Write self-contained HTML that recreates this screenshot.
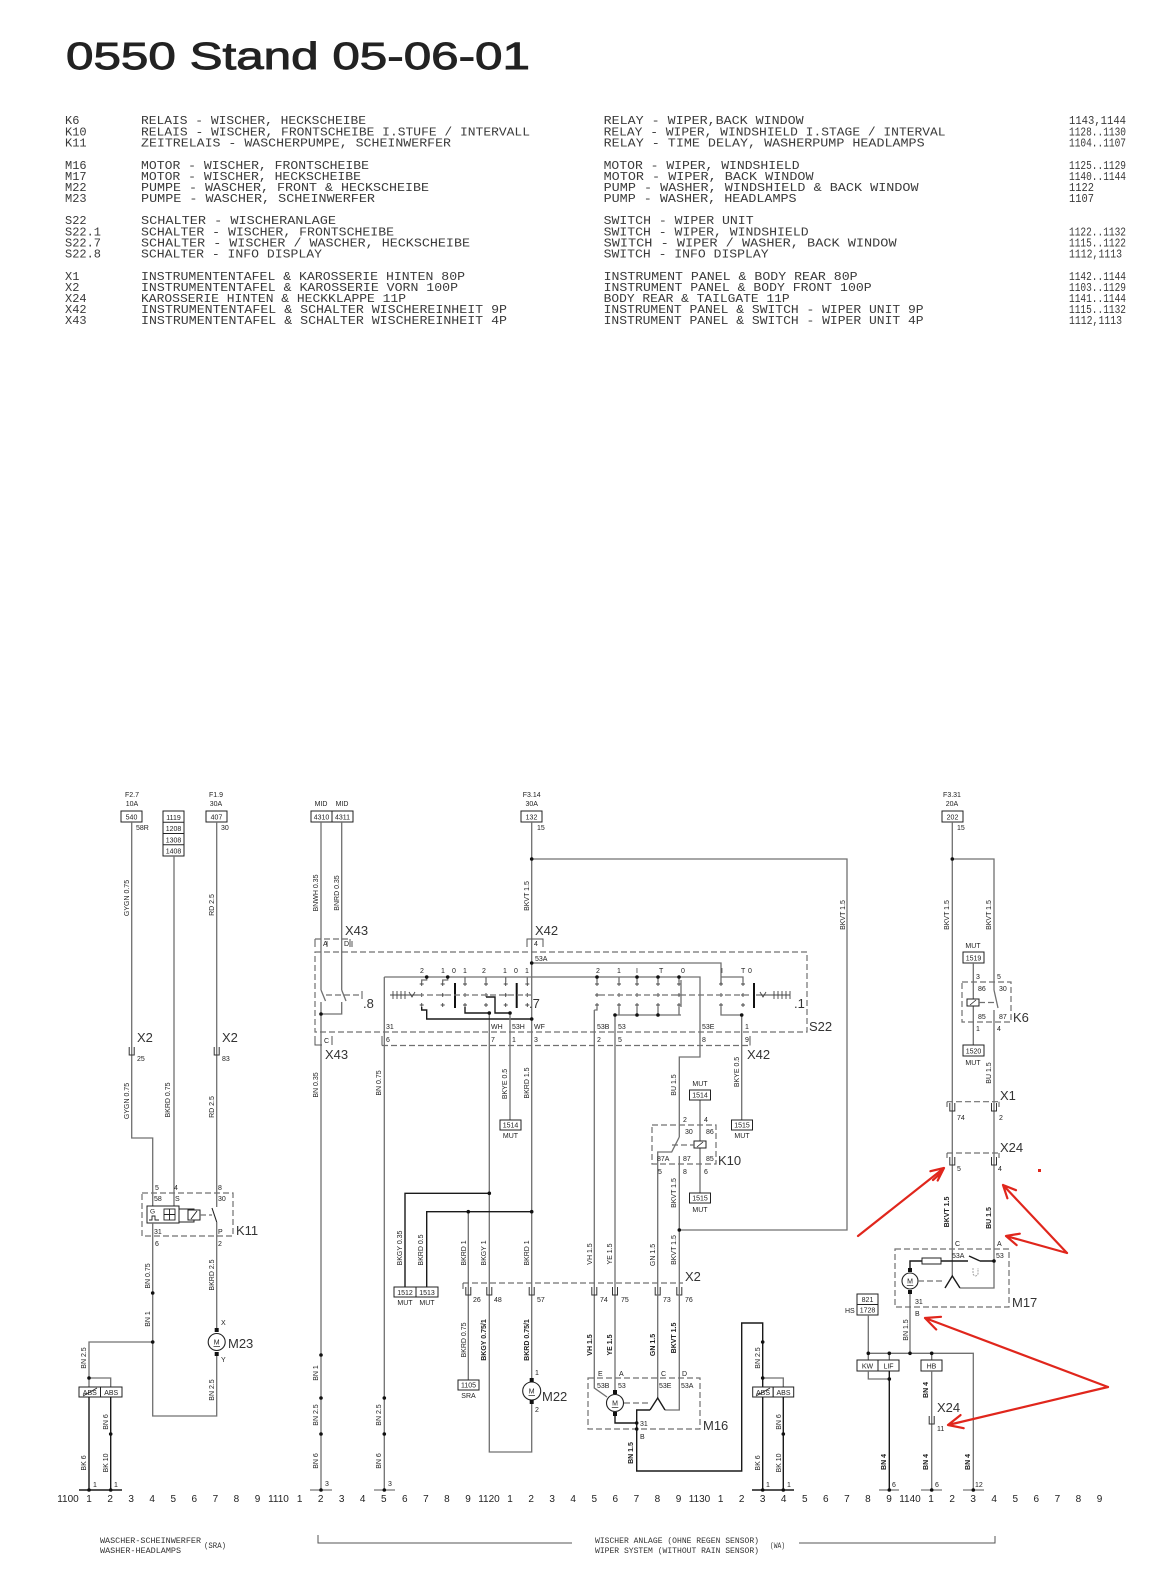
<!DOCTYPE html>
<html><head><meta charset="utf-8"><style>
html,body{margin:0;padding:0;background:#fff}
svg{display:block}
.w{stroke:#707070;stroke-width:1.3;fill:none}
.k{stroke:#1a1a1a;stroke-width:1.4;fill:none}
.d{stroke:#707070;stroke-width:1.2;fill:none;stroke-dasharray:6 3}
.bx{fill:#fff;stroke:#222;stroke-width:1}
.cn{fill:none;stroke:#333;stroke-width:1}
.t{font-family:"Liberation Sans",sans-serif;font-size:7px;fill:#222}
.m{text-anchor:middle}
.b{font-weight:bold}
.L{font-family:"Liberation Sans",sans-serif;font-size:13px;fill:#333}
.n{font-family:"Liberation Sans",sans-serif;font-size:10px;fill:#222;text-anchor:middle}
.g{font-family:"Liberation Mono",monospace;font-size:12px;fill:#3a3a3a}
.s{font-family:"Liberation Mono",monospace;font-size:8px;fill:#333}
.r{stroke:#e0261c;stroke-width:2.2;fill:none;stroke-linecap:round}
.dt{fill:#111}
</style></head><body>
<svg width="1153" height="1570" viewBox="0 0 1153 1570" xmlns="http://www.w3.org/2000/svg">
<rect width="1153" height="1570" fill="#fff"/>

<!-- TITLE -->
<text x="66" y="69" font-family="Liberation Sans, sans-serif" font-size="38" fill="#222" stroke="#222" stroke-width="0.9" textLength="464" lengthAdjust="spacingAndGlyphs">0550 Stand 05-06-01</text>

<!-- LEGEND LEFT -->
<g class="g">
<text x="65" y="124">K6</text><text x="141" y="124" textLength="225" lengthAdjust="spacingAndGlyphs">RELAIS - WISCHER, HECKSCHEIBE</text>
<text x="65" y="135.5">K10</text><text x="141" y="135.5" textLength="389" lengthAdjust="spacingAndGlyphs">RELAIS - WISCHER, FRONTSCHEIBE I.STUFE / INTERVALL</text>
<text x="65" y="146.5">K11</text><text x="141" y="146.5" textLength="310" lengthAdjust="spacingAndGlyphs">ZEITRELAIS - WASCHERPUMPE, SCHEINWERFER</text>
<text x="65" y="169">M16</text><text x="141" y="169" textLength="228" lengthAdjust="spacingAndGlyphs">MOTOR - WISCHER, FRONTSCHEIBE</text>
<text x="65" y="180">M17</text><text x="141" y="180" textLength="220" lengthAdjust="spacingAndGlyphs">MOTOR - WISCHER, HECKSCHEIBE</text>
<text x="65" y="191">M22</text><text x="141" y="191" textLength="288" lengthAdjust="spacingAndGlyphs">PUMPE - WASCHER, FRONT &amp; HECKSCHEIBE</text>
<text x="65" y="202">M23</text><text x="141" y="202" textLength="234" lengthAdjust="spacingAndGlyphs">PUMPE - WASCHER, SCHEINWERFER</text>
<text x="65" y="224">S22</text><text x="141" y="224" textLength="195" lengthAdjust="spacingAndGlyphs">SCHALTER - WISCHERANLAGE</text>
<text x="65" y="235.5">S22.1</text><text x="141" y="235.5" textLength="253" lengthAdjust="spacingAndGlyphs">SCHALTER - WISCHER, FRONTSCHEIBE</text>
<text x="65" y="246.5">S22.7</text><text x="141" y="246.5" textLength="329" lengthAdjust="spacingAndGlyphs">SCHALTER - WISCHER / WASCHER, HECKSCHEIBE</text>
<text x="65" y="257.5">S22.8</text><text x="141" y="257.5" textLength="181" lengthAdjust="spacingAndGlyphs">SCHALTER - INFO DISPLAY</text>
<text x="65" y="280">X1</text><text x="141" y="280" textLength="324" lengthAdjust="spacingAndGlyphs">INSTRUMENTENTAFEL &amp; KAROSSERIE HINTEN 80P</text>
<text x="65" y="291">X2</text><text x="141" y="291" textLength="317" lengthAdjust="spacingAndGlyphs">INSTRUMENTENTAFEL &amp; KAROSSERIE VORN 100P</text>
<text x="65" y="302">X24</text><text x="141" y="302" textLength="265" lengthAdjust="spacingAndGlyphs">KAROSSERIE HINTEN &amp; HECKKLAPPE 11P</text>
<text x="65" y="313">X42</text><text x="141" y="313" textLength="366" lengthAdjust="spacingAndGlyphs">INSTRUMENTENTAFEL &amp; SCHALTER WISCHEREINHEIT 9P</text>
<text x="65" y="324">X43</text><text x="141" y="324" textLength="366" lengthAdjust="spacingAndGlyphs">INSTRUMENTENTAFEL &amp; SCHALTER WISCHEREINHEIT 4P</text>
</g>
<!-- LEGEND RIGHT -->
<g class="g">
<text x="603.6" y="124" textLength="200" lengthAdjust="spacingAndGlyphs">RELAY - WIPER,BACK WINDOW</text>
<text x="603.6" y="135.5" textLength="342" lengthAdjust="spacingAndGlyphs">RELAY - WIPER, WINDSHIELD I.STAGE / INTERVAL</text>
<text x="603.6" y="146.5" textLength="321" lengthAdjust="spacingAndGlyphs">RELAY - TIME DELAY, WASHERPUMP HEADLAMPS</text>
<text x="603.6" y="169" textLength="196" lengthAdjust="spacingAndGlyphs">MOTOR - WIPER, WINDSHIELD</text>
<text x="603.6" y="180" textLength="210" lengthAdjust="spacingAndGlyphs">MOTOR - WIPER, BACK WINDOW</text>
<text x="603.6" y="191" textLength="315" lengthAdjust="spacingAndGlyphs">PUMP - WASHER, WINDSHIELD &amp; BACK WINDOW</text>
<text x="603.6" y="202" textLength="193" lengthAdjust="spacingAndGlyphs">PUMP - WASHER, HEADLAMPS</text>
<text x="603.6" y="224" textLength="150" lengthAdjust="spacingAndGlyphs">SWITCH - WIPER UNIT</text>
<text x="603.6" y="235.5" textLength="205" lengthAdjust="spacingAndGlyphs">SWITCH - WIPER, WINDSHIELD</text>
<text x="603.6" y="246.5" textLength="293" lengthAdjust="spacingAndGlyphs">SWITCH - WIPER / WASHER, BACK WINDOW</text>
<text x="603.6" y="257.5" textLength="165" lengthAdjust="spacingAndGlyphs">SWITCH - INFO DISPLAY</text>
<text x="603.6" y="280" textLength="254" lengthAdjust="spacingAndGlyphs">INSTRUMENT PANEL &amp; BODY REAR 80P</text>
<text x="603.6" y="291" textLength="268" lengthAdjust="spacingAndGlyphs">INSTRUMENT PANEL &amp; BODY FRONT 100P</text>
<text x="603.6" y="302" textLength="186" lengthAdjust="spacingAndGlyphs">BODY REAR &amp; TAILGATE 11P</text>
<text x="603.6" y="313" textLength="320" lengthAdjust="spacingAndGlyphs">INSTRUMENT PANEL &amp; SWITCH - WIPER UNIT 9P</text>
<text x="603.6" y="324" textLength="320" lengthAdjust="spacingAndGlyphs">INSTRUMENT PANEL &amp; SWITCH - WIPER UNIT 4P</text>
<text x="1069" y="124" textLength="57" lengthAdjust="spacingAndGlyphs">1143,1144</text>
<text x="1069" y="135.5" textLength="57" lengthAdjust="spacingAndGlyphs">1128..1130</text>
<text x="1069" y="146.5" textLength="57" lengthAdjust="spacingAndGlyphs">1104..1107</text>
<text x="1069" y="169" textLength="57" lengthAdjust="spacingAndGlyphs">1125..1129</text>
<text x="1069" y="180" textLength="57" lengthAdjust="spacingAndGlyphs">1140..1144</text>
<text x="1069" y="191" textLength="25" lengthAdjust="spacingAndGlyphs">1122</text>
<text x="1069" y="202" textLength="25" lengthAdjust="spacingAndGlyphs">1107</text>
<text x="1069" y="235.5" textLength="57" lengthAdjust="spacingAndGlyphs">1122..1132</text>
<text x="1069" y="246.5" textLength="57" lengthAdjust="spacingAndGlyphs">1115..1122</text>
<text x="1069" y="257.5" textLength="53" lengthAdjust="spacingAndGlyphs">1112,1113</text>
<text x="1069" y="280" textLength="57" lengthAdjust="spacingAndGlyphs">1142..1144</text>
<text x="1069" y="291" textLength="57" lengthAdjust="spacingAndGlyphs">1103..1129</text>
<text x="1069" y="302" textLength="57" lengthAdjust="spacingAndGlyphs">1141..1144</text>
<text x="1069" y="313" textLength="57" lengthAdjust="spacingAndGlyphs">1115..1132</text>
<text x="1069" y="324" textLength="53" lengthAdjust="spacingAndGlyphs">1112,1113</text>
</g>

<!-- ================= LEFT SECTION (SRA) ================= -->
<g class="t m">
<text x="132" y="797">F2.7</text><text x="132" y="806">10A</text>
<text x="216" y="797">F1.9</text><text x="216" y="806">30A</text>
</g>
<rect class="bx" x="121" y="811" width="21" height="11"/>
<rect class="bx" x="163" y="811" width="21" height="45"/>
<path d="M163 822.2h21M163 833.5h21M163 844.8h21" stroke="#222" stroke-width="1"/>
<rect class="bx" x="206" y="811" width="21" height="11"/>
<g class="t m">
<text x="131.5" y="819.5">540</text>
<text x="173.5" y="819.8">1119</text><text x="173.5" y="831">1208</text><text x="173.5" y="842.3">1308</text><text x="173.5" y="853.5">1408</text>
<text x="216.5" y="819.5">407</text>
</g>
<text class="t" x="136" y="830">58R</text>
<text class="t" x="221" y="830">30</text>

<path class="w" d="M131.7 822V1138H152.7V1206"/>
<path class="w" d="M174 856V1206"/>
<path class="w" d="M216.7 822V1207"/>
<path class="cn" d="M129.2 1047v8h5v-8M214.2 1047v8h5v-8"/>
<text class="L" x="137" y="1042">X2</text><text class="L" x="222" y="1042">X2</text>
<text class="t" x="137" y="1061">25</text><text class="t" x="222" y="1061">83</text>

<!-- K11 -->
<rect class="d" x="142" y="1193" width="91" height="43"/>
<rect x="147" y="1206" width="32" height="17" fill="#fff" stroke="#222" stroke-width="1"/>
<text x="150" y="1213.5" font-family="Liberation Sans,sans-serif" font-size="6.5" fill="#222">G</text>
<path d="M149 1220h3v-4h3v4h4" stroke="#222" stroke-width="0.9" fill="none"/>
<rect x="164" y="1209" width="11" height="11" fill="none" stroke="#222" stroke-width="0.9"/>
<path d="M169.5 1209v11M164 1214.5h11" stroke="#222" stroke-width="0.9"/>
<path d="M179 1209H194V1210M179 1222H194V1220" stroke="#222" stroke-width="1" fill="none"/>
<rect x="188" y="1210" width="12" height="10" fill="#fff" stroke="#222" stroke-width="1"/>
<path d="M191 1219L197 1211" stroke="#222" stroke-width="0.9"/>
<path class="d" d="M200 1215H212" stroke-dasharray="3 2"/>
<path d="M216.7 1222L212 1208" stroke="#222" stroke-width="1.1"/>
<g class="t">
<text x="155" y="1190">5</text><text x="174" y="1190">4</text><text x="218" y="1190">8</text>
<text x="154" y="1201">58</text><text x="175" y="1201">S</text><text x="218" y="1201">30</text>
<text x="154" y="1234">31</text><text x="218" y="1234">P</text>
<text x="155" y="1246">6</text><text x="218" y="1246">2</text>
</g>
<text class="L" x="236" y="1235">K11</text>

<path class="w" d="M152.7 1223V1416H216.7V1356"/>
<path class="w" d="M216.7 1222V1328"/>
<circle cx="216.7" cy="1342" r="8.5" fill="#fff" stroke="#222" stroke-width="1.1"/>
<rect x="214.7" y="1328" width="4" height="4" class="dt"/><rect x="214.7" y="1352" width="4" height="4" class="dt"/>
<text class="t m" x="216.7" y="1344.5">M</text><path d="M213.5 1346.5h6.5" stroke="#222" stroke-width="0.7"/>
<text class="t" x="221" y="1325">X</text><text class="t" x="221" y="1362">Y</text>
<text class="L" x="228" y="1348">M23</text>
<path class="w" d="M152.7 1342H89V1387M89 1378H110.7V1387"/>
<rect class="bx" x="79" y="1387" width="21.5" height="10"/><rect class="bx" x="100.5" y="1387" width="21.5" height="10"/>
<text class="t m" x="89.8" y="1394.8">ABS</text><text class="t m" x="111.2" y="1394.8">ABS</text>
<path d="M83 1396L97 1388" stroke="#222" stroke-width="0.8"/>
<path class="k" d="M89 1397V1490M110.7 1397V1490M79 1490H122"/>
<text class="t" x="93" y="1487">1</text><text class="t" x="114" y="1487">1</text>

<!-- ================= MIDDLE SECTION ================= -->
<g class="t m"><text x="321" y="806">MID</text><text x="342" y="806">MID</text>
<text x="531.7" y="797">F3.14</text><text x="531.7" y="806">30A</text></g>
<rect class="bx" x="311" y="811" width="21" height="11"/><rect class="bx" x="332" y="811" width="21" height="11"/>
<rect class="bx" x="521" y="811" width="21" height="11"/>
<g class="t m"><text x="321.5" y="819.5">4310</text><text x="342.5" y="819.5">4311</text><text x="531.5" y="819.5">132</text></g>
<text class="t" x="537" y="830">15</text>

<!-- X43 / S22.8 -->
<path class="w" d="M321 822V990M321 1002V1490M321 990L325.5 1001"/>
<path class="w" d="M341.7 822V990M341.7 1002V1014H321M341.7 990L346 1001"/>
<path class="d" d="M326 995H362" stroke-dasharray="4 2.5"/>
<path d="M362 991V999" stroke="#555" stroke-width="1"/>
<text class="L" x="363" y="1008">.8</text>
<path d="M315 947V939M350 947V939M327 947V941M352 947V941" stroke="#555" stroke-width="1" fill="none"/>
<path class="d" d="M315 939H350" stroke-dasharray="4 2"/>
<text class="t" x="323" y="946">A</text><text class="t" x="344" y="946">D</text>
<text class="L" x="345" y="935">X43</text>
<path d="M315 1036V1045H322M332 1036V1045" stroke="#555" stroke-width="1" fill="none"/>
<text class="t" x="324" y="1043">C</text>
<text class="L" x="325" y="1059">X43</text>

<!-- S22 box -->
<rect class="d" x="315" y="952" width="492" height="80"/>
<text class="L" x="809" y="1031">S22</text>
<path class="d" d="M382 1045.5H750"/>
<path d="M382 1036V1045.5M750 1036V1045.5" stroke="#555" stroke-width="1"/>

<!-- 15 supply -->
<path class="w" d="M531.7 822V1380M531.7 1402V1452H489.3V1013"/>
<path class="w" d="M531.7 859H847V1230H679.3"/>
<path d="M527 947V939H543V947" stroke="#555" stroke-width="1" fill="none"/>
<text class="t" x="534" y="946">4</text>
<text class="L" x="535" y="935">X42</text>
<text class="t" x="535" y="961">53A</text>
<path class="w" d="M531.7 963H721V984"/>
<path class="w" d="M384.3 977H700V1057H679.3V1137"/>
<path class="w" d="M384.3 977V1490"/>

<!-- contacts -->
<path stroke="#444" stroke-width="0.9" fill="none" d="M419.7 984h4M421.7 982v4M419.7 995h4M421.7 993v4M419.7 1005h4M421.7 1003v4M440.7 984h4M442.7 982v4M440.7 995h4M442.7 993v4M440.7 1005h4M442.7 1003v4M463 984h4M465 982v4M463 995h4M465 993v4M463 1005h4M465 1003v4M484 984h4M486 982v4M484 995h4M486 993v4M484 1005h4M486 1003v4M503.7 984h4M505.7 982v4M503.7 995h4M505.7 993v4M503.7 1005h4M505.7 1003v4M525.3 984h4M527.3 982v4M525.3 995h4M527.3 993v4M525.3 1005h4M527.3 1003v4M595 984h4M597 982v4M595 995h4M597 993v4M595 1005h4M597 1003v4M617 984h4M619 982v4M617 995h4M619 993v4M617 1005h4M619 1003v4M635 984h4M637 982v4M635 995h4M637 993v4M635 1005h4M637 1003v4M656 984h4M658 982v4M656 995h4M658 993v4M656 1005h4M658 1003v4M677 984h4M679 982v4M677 995h4M679 993v4M677 1005h4M679 1003v4M719 984h4M721 982v4M719 995h4M721 993v4M719 1005h4M721 1003v4M741 984h4M743 982v4M741 995h4M743 993v4M741 1005h4M743 1003v4"/>
<path class="w" d="M426.7 977V980H421.7V982M447.7 977V980H442.7V982M465 977V982M486 977V982M505.7 977V982M527.3 977V982M597 977V982M619 977V982M637 977V982M658 977V982M679 977V982M721 977H743V982M681 980V1007"/>
<path class="k" d="M421.7 1007V1010H426.7V1019H531.7M465 1007V1013H489.3M486 997H495V1013H510"/>
<path class="w" d="M597 1007V1010H594.3M619 1007V1015M615 1015H681M637 1007V1015M658 1007V1015M679 1007V1015M721 1007V1015H741.7"/>
<path d="M455 983V1008M516.7 983V1008M754 983V1008" stroke="#111" stroke-width="2"/>
<path class="d" d="M418 995H531M599 995H752" stroke-dasharray="5 3"/>
<path d="M390 995H418M393 991v8M397 991v8M401 991v8M405 991v8M409 992L412 997L415 992M756 995H790M774 991v8M778 991v8M782 991v8M786 991v8M790 991v8M760 992L763 997L766 992" stroke="#444" stroke-width="0.9" fill="none"/>
<text class="L" x="529" y="1008">.7</text>
<text class="L" x="794" y="1008">.1</text>
<g class="t" font-size="8">
<text x="420" y="973">2</text><text x="441" y="973">1</text><text x="452" y="973">0</text><text x="463" y="973">1</text>
<text x="482" y="973">2</text><text x="503" y="973">1</text><text x="514" y="973">0</text><text x="525" y="973">1</text>
<text x="596" y="973">2</text><text x="617" y="973">1</text><text x="636" y="973">I</text><text x="659" y="973">T</text><text x="681" y="973">0</text>
<text x="721" y="973">I</text><text x="741" y="973">T</text><text x="748" y="973">0</text>
</g>
<g class="t">
<text x="386" y="1029">31</text><text x="491" y="1029">WH</text><text x="512" y="1029">53H</text><text x="534" y="1029">WF</text>
<text x="597" y="1029">53B</text><text x="618" y="1029">53</text><text x="702" y="1029">53E</text><text x="745" y="1029">1</text>
<text x="386" y="1042">6</text><text x="491" y="1042">7</text><text x="512" y="1042">1</text><text x="534" y="1042">3</text>
<text x="597" y="1042">2</text><text x="618" y="1042">5</text><text x="702" y="1042">8</text><text x="745" y="1042">9</text>
</g>
<text class="L" x="747" y="1059">X42</text>

<!-- wires below S22 -->
<path class="w" d="M594.3 1010V1388L607 1397"/>
<path class="w" d="M615 1015V1393"/>
<path class="w" d="M510 1013V1120"/>
<path class="w" d="M741.7 1015V1120"/>
<rect class="bx" x="500" y="1120" width="21" height="10"/><text class="t m" x="510.5" y="1127.5">1514</text><text class="t m" x="510.5" y="1138">MUT</text>
<rect class="bx" x="731.5" y="1120" width="21" height="10"/><text class="t m" x="742" y="1127.5">1515</text><text class="t m" x="742" y="1138">MUT</text>

<path class="k" d="M489.3 1193.3H405V1287"/>
<path class="k" d="M531.7 1211.7H426.7V1287"/>
<path class="w" d="M468.3 1211.7V1380"/>
<rect class="bx" x="394" y="1287" width="22" height="10"/><rect class="bx" x="416" y="1287" width="22" height="10"/>
<text class="t m" x="405" y="1294.8">1512</text><text class="t m" x="427" y="1294.8">1513</text>
<text class="t m" x="405" y="1305">MUT</text><text class="t m" x="427" y="1305">MUT</text>

<path class="d" d="M463 1283H683"/>
<path d="M463 1283V1289" stroke="#555" stroke-width="1"/>
<text class="L" x="685" y="1281">X2</text>
<path class="cn" d="M465.8 1287v8h5v-8M486.8 1287v8h5v-8M529.2 1287v8h5v-8M591.8 1287v8h5v-8M612.5 1287v8h5v-8M655.2 1287v8h5v-8M676.8 1287v8h5v-8"/>
<g class="t"><text x="473" y="1302">26</text><text x="494" y="1302">48</text><text x="537" y="1302">57</text>
<text x="600" y="1302">74</text><text x="621" y="1302">75</text><text x="663" y="1302">73</text><text x="685" y="1302">76</text></g>

<rect class="bx" x="458" y="1380" width="21" height="10"/><text class="t m" x="468.5" y="1387.5">1105</text><text class="t m" x="468.5" y="1398">SRA</text>
<circle cx="531.7" cy="1391" r="9" fill="#fff" stroke="#222" stroke-width="1.1"/>
<rect x="529.7" y="1378" width="4" height="4" class="dt"/><rect x="529.7" y="1400" width="4" height="4" class="dt"/>
<text class="t m" x="531.7" y="1393.5">M</text><path d="M528.5 1395.5h6.5" stroke="#222" stroke-width="0.7"/>
<text class="t" x="535" y="1375">1</text><text class="t" x="535" y="1412">2</text>
<text class="L" x="542" y="1401">M22</text>

<path d="M310 1490H332M374 1490H395" stroke="#555" stroke-width="1"/>
<text class="t" x="325" y="1486">3</text><text class="t" x="388" y="1486">3</text>

<!-- K10 -->
<rect class="d" x="652" y="1125" width="64" height="39"/>
<path class="w" d="M679.3 1137L671.7 1152H657.7V1398"/>
<path class="w" d="M679.3 1156V1410H665"/>
<path class="w" d="M700 1100V1141M700 1148V1193"/>
<rect x="694" y="1141" width="12" height="7" fill="#fff" stroke="#222" stroke-width="1"/>
<path d="M697 1147L703 1142" stroke="#222" stroke-width="0.8"/>
<path class="d" d="M672 1145H694" stroke-dasharray="4 2"/>
<rect class="bx" x="689.5" y="1090" width="21" height="10"/><text class="t m" x="700" y="1097.5">1514</text><text class="t m" x="700" y="1086">MUT</text>
<rect class="bx" x="689.5" y="1193" width="21" height="10"/><text class="t m" x="700" y="1200.5">1515</text><text class="t m" x="700" y="1212">MUT</text>
<g class="t"><text x="683" y="1122">2</text><text x="704" y="1122">4</text><text x="685" y="1134">30</text><text x="706" y="1134">86</text>
<text x="657" y="1161">87A</text><text x="683" y="1161">87</text><text x="706" y="1161">85</text>
<text x="658" y="1174">5</text><text x="683" y="1174">8</text><text x="704" y="1174">6</text></g>
<text class="L" x="718" y="1165">K10</text>

<!-- M16 -->
<rect class="d" x="588" y="1378" width="112" height="51"/>
<circle cx="615" cy="1403" r="8.5" fill="#fff" stroke="#222" stroke-width="1.1"/>
<rect x="613" y="1390" width="4" height="4" class="dt"/><rect x="613" y="1412" width="4" height="4" class="dt"/>
<text class="t m" x="615" y="1405.5">M</text><path d="M611.8 1407.5h6.5" stroke="#222" stroke-width="0.7"/>
<path class="d" d="M624 1403H650" stroke-dasharray="4 2"/>
<path class="k" d="M650 1410L657.7 1398L665 1410"/>
<path class="k" d="M650 1410H636.7V1471H741.7V1323H762.7V1387"/>
<path class="k" d="M615 1416V1423H636.7"/>
<g class="t"><text x="598" y="1376">E</text><text x="619" y="1376">A</text><text x="661" y="1376">C</text><text x="682" y="1376">D</text>
<text x="597" y="1388">53B</text><text x="618" y="1388">53</text><text x="659" y="1388">53E</text><text x="681" y="1388">53A</text>
<text x="640" y="1426">31</text><text x="640" y="1439">B</text></g>
<text class="L" x="703" y="1430">M16</text>

<path class="w" d="M762.7 1378H783.3V1387"/>
<rect class="bx" x="752.7" y="1387" width="20.5" height="10"/><rect class="bx" x="773.2" y="1387" width="20.5" height="10"/>
<text class="t m" x="763" y="1394.8">ABS</text><text class="t m" x="783.5" y="1394.8">ABS</text>
<path d="M756 1396L770 1388" stroke="#222" stroke-width="0.8"/>
<path class="k" d="M762.7 1397V1490M783.3 1397V1490M752 1490H794"/>
<text class="t" x="766" y="1487">1</text><text class="t" x="787" y="1487">1</text>

<!-- ================= RIGHT SECTION ================= -->
<g class="t m"><text x="952" y="797">F3.31</text><text x="952" y="806">20A</text></g>
<rect class="bx" x="942" y="811" width="21" height="11"/><text class="t m" x="952.5" y="819.5">202</text>
<text class="t" x="957" y="830">15</text>
<path class="w" d="M952.3 822V1276"/>
<path class="w" d="M952.3 859H994V990M994 990L998 1008M994 1010V1261"/>
<text class="t m" x="973" y="948">MUT</text>
<rect class="bx" x="963" y="952" width="21" height="11"/><text class="t m" x="973.5" y="960.5">1519</text>
<path class="w" d="M973.3 963V999M973.3 1006V1045"/>
<rect x="967" y="999" width="12" height="7" fill="#fff" stroke="#222" stroke-width="1"/>
<path d="M970 1005L976 1000" stroke="#222" stroke-width="0.8"/>
<rect class="bx" x="963" y="1045" width="21" height="11"/><text class="t m" x="973.5" y="1053.5">1520</text>
<text class="t m" x="973" y="1065">MUT</text>
<rect class="d" x="962" y="982" width="49" height="40"/>
<path class="d" d="M979 1002.5H995" stroke-dasharray="3 2"/>
<g class="t"><text x="976" y="979">3</text><text x="997" y="979">5</text><text x="978" y="991">86</text><text x="999" y="991">30</text>
<text x="978" y="1019">85</text><text x="999" y="1019">87</text><text x="976" y="1031">1</text><text x="997" y="1031">4</text></g>
<text class="L" x="1013" y="1022">K6</text>

<path class="d" d="M947 1101.7H999M947 1153H999" stroke-dasharray="4 2.5"/>
<path d="M947 1101.7V1107M999 1101.7V1107M947 1153V1158M999 1153V1158" stroke="#555" stroke-width="1"/>
<path class="cn" d="M949.8 1103v8h5v-8M991.5 1103v8h5v-8M949.8 1157v8h5v-8M991.5 1157v8h5v-8"/>
<text class="L" x="1000" y="1100">X1</text><text class="L" x="1000" y="1152">X24</text>
<g class="t"><text x="957" y="1120">74</text><text x="999" y="1120">2</text><text x="957" y="1171">5</text><text x="998" y="1171">4</text>
<text x="955" y="1246">C</text><text x="997" y="1246">A</text><text x="952" y="1258">53A</text><text x="996" y="1258">53</text></g>

<!-- M17 -->
<rect class="d" x="895" y="1249" width="114" height="58"/>
<text class="L" x="1012" y="1307">M17</text>
<path class="k" d="M945 1288L952.3 1276L960 1288"/>
<path class="w" d="M960 1288H994V1261"/>
<path class="k" d="M994 1261H980M980 1261L969 1256M968 1261H941M922 1261H910V1270"/>
<rect x="922" y="1258" width="19" height="6" fill="#fff" stroke="#222" stroke-width="1"/>
<path d="M973 1268v6q2.5 4 5 0v-6" stroke="#999" stroke-width="0.9" fill="none" stroke-dasharray="2 1"/>
<circle cx="910" cy="1281" r="8" fill="#fff" stroke="#222" stroke-width="1.1"/>
<rect x="908" y="1268" width="4" height="4" class="dt"/><rect x="908" y="1290" width="4" height="4" class="dt"/>
<text class="t m" x="910" y="1283.5">M</text><path d="M906.8 1285.5h6.5" stroke="#222" stroke-width="0.7"/>
<path class="d" d="M918 1281H945" stroke-dasharray="4 2"/>
<path class="w" d="M910 1294V1353.3"/>
<text class="t" x="915" y="1304">31</text><text class="t" x="915" y="1316">B</text>
<rect class="bx" x="857" y="1294" width="21" height="21"/>
<path d="M857 1304.5H878" stroke="#222" stroke-width="1"/>
<text class="t m" x="867.5" y="1302">821</text><text class="t m" x="867.5" y="1312.5">1728</text>
<text class="t" x="845" y="1313">HS</text>
<path class="w" d="M868.3 1315V1360M868.3 1353.3H973.3V1490M889.3 1353.3V1360M931.7 1353.3V1360"/>
<rect class="bx" x="857" y="1360" width="21" height="11"/><rect class="bx" x="878" y="1360" width="21" height="11"/>
<rect class="bx" x="921" y="1360" width="21" height="11"/>
<text class="t m" x="867.5" y="1368.5">KW</text><text class="t m" x="888.5" y="1368.5">LIF</text><text class="t m" x="931.5" y="1368.5">HB</text>
<path class="w" d="M868.3 1371V1379H889.3"/>
<path class="k" d="M889.3 1371V1490"/>
<path class="w" d="M931.7 1371V1490"/>
<path class="cn" d="M929.2 1416v8h5v-8"/>
<text class="L" x="937" y="1412">X24</text><text class="t" x="937" y="1431">11</text>
<path d="M879 1490H899M921 1490H942M963 1490H984" stroke="#555" stroke-width="1"/>
<g class="t"><text x="892" y="1487">6</text><text x="935" y="1487">6</text><text x="975" y="1487">12</text></g>

<!-- DOTS -->
<g class="dt">
<circle cx="152.7" cy="1293" r="1.8"/><circle cx="152.7" cy="1342" r="1.8"/><circle cx="89" cy="1378" r="1.8"/>
<circle cx="110.7" cy="1434" r="1.8"/><circle cx="89" cy="1490" r="1.8"/><circle cx="110.7" cy="1490" r="1.8"/>
<circle cx="321" cy="1014" r="1.8"/>
<circle cx="531.7" cy="859" r="1.8"/><circle cx="531.7" cy="963" r="1.8"/><circle cx="531.7" cy="1019" r="1.8"/>
<circle cx="426.7" cy="977" r="1.8"/><circle cx="447.7" cy="977" r="1.8"/>
<circle cx="489.3" cy="1013" r="1.8"/><circle cx="510" cy="1013" r="1.8"/>
<circle cx="597" cy="977" r="1.8"/><circle cx="637" cy="977" r="1.8"/><circle cx="658" cy="977" r="1.8"/><circle cx="679" cy="977" r="1.8"/>
<circle cx="615" cy="1015" r="1.8"/><circle cx="637" cy="1015" r="1.8"/><circle cx="658" cy="1015" r="1.8"/><circle cx="741.7" cy="1015" r="1.8"/>
<circle cx="679.3" cy="1230" r="1.8"/>
<circle cx="489.3" cy="1193.3" r="1.8"/><circle cx="468.3" cy="1211.7" r="1.8"/><circle cx="531.7" cy="1211.7" r="1.8"/>
<circle cx="321" cy="1355" r="1.8"/><circle cx="321" cy="1398" r="1.8"/><circle cx="321" cy="1434" r="1.8"/><circle cx="321" cy="1490" r="1.8"/>
<circle cx="384.3" cy="1398" r="1.8"/><circle cx="384.3" cy="1434" r="1.8"/><circle cx="384.3" cy="1490" r="1.8"/>
<circle cx="636.7" cy="1423" r="1.8"/><circle cx="636.7" cy="1429" r="1.8"/>
<circle cx="762.7" cy="1342" r="1.8"/><circle cx="762.7" cy="1378" r="1.8"/><circle cx="783.3" cy="1434" r="1.8"/>
<circle cx="762.7" cy="1490" r="1.8"/><circle cx="783.3" cy="1490" r="1.8"/>
<circle cx="952.3" cy="859" r="1.8"/><circle cx="994" cy="1261" r="1.8"/>
<circle cx="868.3" cy="1353.3" r="1.8"/><circle cx="889.3" cy="1353.3" r="1.8"/><circle cx="910" cy="1353.3" r="1.8"/><circle cx="931.7" cy="1353.3" r="1.8"/>
<circle cx="889.3" cy="1379" r="1.8"/>
<circle cx="889.3" cy="1490" r="1.8"/><circle cx="931.7" cy="1490" r="1.8"/><circle cx="973.3" cy="1490" r="1.8"/>
</g>

<!-- VERTICAL WIRE LABELS -->
<g class="t m" fill="#333">
<text transform="translate(129 898) rotate(-90)">GYGN 0.75</text>
<text transform="translate(129 1101) rotate(-90)">GYGN 0.75</text>
<text transform="translate(170 1100) rotate(-90)">BKRD 0.75</text>
<text transform="translate(214 905) rotate(-90)">RD 2.5</text>
<text transform="translate(214 1107) rotate(-90)">RD 2.5</text>
<text transform="translate(150 1276) rotate(-90)">BN 0.75</text>
<text transform="translate(150 1319) rotate(-90)">BN 1</text>
<text transform="translate(214 1275) rotate(-90)">BKRD 2.5</text>
<text transform="translate(214 1390) rotate(-90)">BN 2.5</text>
<text transform="translate(86 1358) rotate(-90)">BN 2.5</text>
<text transform="translate(108 1422) rotate(-90)">BN 6</text>
<text transform="translate(108 1463) rotate(-90)">BK 10</text>
<text transform="translate(86 1463) rotate(-90)">BK 6</text>
<text transform="translate(318 893) rotate(-90)">BNWH 0.35</text>
<text transform="translate(339 893) rotate(-90)">BNRD 0.35</text>
<text transform="translate(318 1085) rotate(-90)">BN 0.35</text>
<text transform="translate(381 1083) rotate(-90)">BN 0.75</text>
<text transform="translate(529 896) rotate(-90)">BKVT 1.5</text>
<text transform="translate(845 915) rotate(-90)">BKVT 1.5</text>
<text transform="translate(507 1084) rotate(-90)">BKYE 0.5</text>
<text transform="translate(529 1083) rotate(-90)">BKRD 1.5</text>
<text transform="translate(676 1085) rotate(-90)">BU 1.5</text>
<text transform="translate(739 1072) rotate(-90)">BKYE 0.5</text>
<text transform="translate(676 1193) rotate(-90)">BKVT 1.5</text>
<text transform="translate(676 1250) rotate(-90)">BKVT 1.5</text>
<text transform="translate(655 1255) rotate(-90)">GN 1.5</text>
<text transform="translate(592 1254) rotate(-90)">VH 1.5</text>
<text transform="translate(612 1254) rotate(-90)">YE 1.5</text>
<text transform="translate(402 1248) rotate(-90)">BKGY 0.35</text>
<text transform="translate(423 1250) rotate(-90)">BKRD 0.5</text>
<text transform="translate(466 1253) rotate(-90)">BKRD 1</text>
<text transform="translate(486 1253) rotate(-90)">BKGY 1</text>
<text transform="translate(529 1253) rotate(-90)">BKRD 1</text>
<text transform="translate(466 1340) rotate(-90)">BKRD 0.75</text>
<text class="b" transform="translate(486 1340) rotate(-90)">BKGY 0.75/1</text>
<text class="b" transform="translate(529 1340) rotate(-90)">BKRD 0.75/1</text>
<text transform="translate(318 1373) rotate(-90)">BN 1</text>
<text transform="translate(318 1415) rotate(-90)">BN 2.5</text>
<text transform="translate(318 1461) rotate(-90)">BN 6</text>
<text transform="translate(381 1415) rotate(-90)">BN 2.5</text>
<text transform="translate(381 1461) rotate(-90)">BN 6</text>
<text class="b" transform="translate(592 1345) rotate(-90)">VH 1.5</text>
<text class="b" transform="translate(612 1345) rotate(-90)">YE 1.5</text>
<text class="b" transform="translate(655 1345) rotate(-90)">GN 1.5</text>
<text class="b" transform="translate(676 1338) rotate(-90)">BKVT 1.5</text>
<text class="b" transform="translate(633 1453) rotate(-90)">BN 1.5</text>
<text transform="translate(760 1358) rotate(-90)">BN 2.5</text>
<text transform="translate(781 1422) rotate(-90)">BN 6</text>
<text transform="translate(781 1463) rotate(-90)">BK 10</text>
<text transform="translate(760 1463) rotate(-90)">BK 6</text>
<text transform="translate(949 915) rotate(-90)">BKVT 1.5</text>
<text transform="translate(991 915) rotate(-90)">BKVT 1.5</text>
<text transform="translate(991 1073) rotate(-90)">BU 1.5</text>
<text class="b" transform="translate(949 1212) rotate(-90)">BKVT 1.5</text>
<text class="b" transform="translate(991 1218) rotate(-90)">BU 1.5</text>
<text transform="translate(908 1330) rotate(-90)">BN 1.5</text>
<text class="b" transform="translate(928 1390) rotate(-90)">BN 4</text>
<text class="b" transform="translate(886 1462) rotate(-90)">BN 4</text>
<text class="b" transform="translate(928 1462) rotate(-90)">BN 4</text>
<text class="b" transform="translate(970 1462) rotate(-90)">BN 4</text>
</g>

<!-- COLUMN NUMBERS -->
<g class="n">
<text x="68" y="1502">1100</text><text x="89" y="1502">1</text><text x="110.1" y="1502">2</text><text x="131.2" y="1502">3</text><text x="152.2" y="1502">4</text><text x="173.3" y="1502">5</text><text x="194.3" y="1502">6</text><text x="215.4" y="1502">7</text><text x="236.4" y="1502">8</text><text x="257.5" y="1502">9</text>
<text x="278.5" y="1502">1110</text><text x="299.6" y="1502">1</text><text x="320.6" y="1502">2</text><text x="341.7" y="1502">3</text><text x="362.7" y="1502">4</text><text x="383.8" y="1502">5</text><text x="404.8" y="1502">6</text><text x="425.9" y="1502">7</text><text x="446.9" y="1502">8</text><text x="468" y="1502">9</text>
<text x="489" y="1502">1120</text><text x="510" y="1502">1</text><text x="531.1" y="1502">2</text><text x="552.2" y="1502">3</text><text x="573.2" y="1502">4</text><text x="594.3" y="1502">5</text><text x="615.3" y="1502">6</text><text x="636.4" y="1502">7</text><text x="657.4" y="1502">8</text><text x="678.5" y="1502">9</text>
<text x="699.5" y="1502">1130</text><text x="720.6" y="1502">1</text><text x="741.6" y="1502">2</text><text x="762.7" y="1502">3</text><text x="783.7" y="1502">4</text><text x="804.8" y="1502">5</text><text x="825.8" y="1502">6</text><text x="846.9" y="1502">7</text><text x="867.9" y="1502">8</text><text x="889" y="1502">9</text>
<text x="910" y="1502">1140</text><text x="931" y="1502">1</text><text x="952.1" y="1502">2</text><text x="973.2" y="1502">3</text><text x="994.2" y="1502">4</text><text x="1015.3" y="1502">5</text><text x="1036.3" y="1502">6</text><text x="1057.4" y="1502">7</text><text x="1078.4" y="1502">8</text><text x="1099.5" y="1502">9</text>
</g>

<!-- BOTTOM HEADINGS -->
<text class="s" x="100" y="1543" textLength="101" lengthAdjust="spacingAndGlyphs">WASCHER-SCHEINWERFER</text>
<text class="s" x="100" y="1553" textLength="81" lengthAdjust="spacingAndGlyphs">WASHER-HEADLAMPS</text>
<text class="s" x="204" y="1548" font-size="7" textLength="22" lengthAdjust="spacingAndGlyphs">(SRA)</text>
<path d="M318 1535V1543H572" stroke="#555" stroke-width="1" fill="none"/>
<text class="s" x="595" y="1543" textLength="164" lengthAdjust="spacingAndGlyphs">WISCHER ANLAGE (OHNE REGEN SENSOR)</text>
<text class="s" x="595" y="1553" textLength="164" lengthAdjust="spacingAndGlyphs">WIPER SYSTEM (WITHOUT RAIN SENSOR)</text>
<text class="s" x="770" y="1548" font-size="7" textLength="15" lengthAdjust="spacingAndGlyphs">(WA)</text>
<path d="M799 1543H995V1536" stroke="#555" stroke-width="1" fill="none"/>

<!-- RED ANNOTATION ARROWS -->
<path class="r" d="M858 1236L944 1168M944 1168L930.4 1171.2M944 1168L937.7 1180.5M941 1173L933 1180"/>
<path class="r" d="M1067 1253L1003 1185M1003 1185L1007.4 1198.3M1003 1185L1016 1190.2"/>
<path class="r" d="M1067 1253L1006 1236M1006 1236L1016.6 1245.1M1006 1236L1019.8 1233.7"/>
<path class="r" d="M1108 1387L925 1318M925 1318L936.2 1329.5M925 1318L941 1316.8"/>
<path class="r" d="M1108 1387L948 1425M948 1425L963.7 1428.2M948 1425L960.5 1415.1"/>
<rect x="1038" y="1169" width="3" height="3" fill="#e0261c"/>
</svg>
</body></html>
